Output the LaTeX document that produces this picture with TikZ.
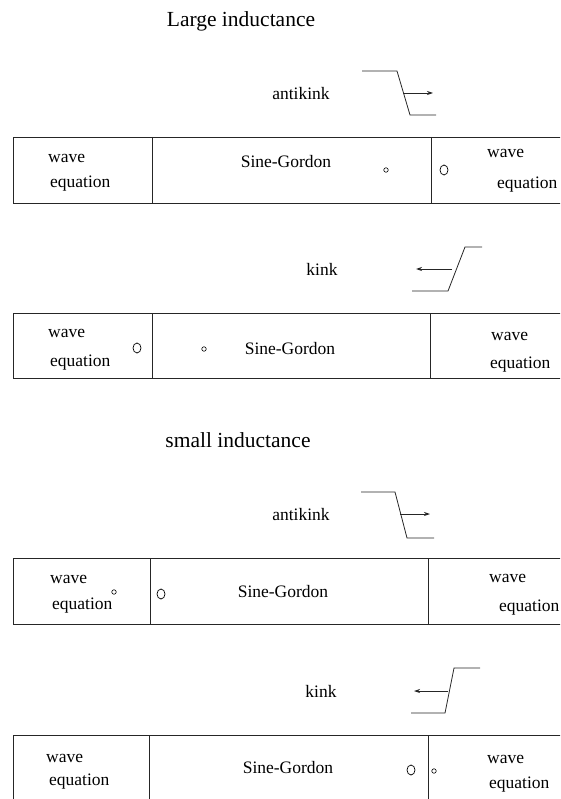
\documentclass[tikz,border=0pt]{standalone}
\usepackage{fontspec}
\setmainfont{Liberation Serif}
\usetikzlibrary{arrows.meta,shapes.geometric}
\begin{document}
\begin{tikzpicture}[x=1pt,y=-1pt,
  lbl/.style={inner sep=0pt,anchor=base west,font=\fontsize{17.5}{20}\selectfont},
  clbl/.style={inner sep=0pt,anchor=base,font=\fontsize{17.5}{20}\selectfont},
  ttl/.style={inner sep=0pt,anchor=base,font=\fontsize{21.5}{24}\selectfont},
  frame/.style={line width=0.9pt,black!85},
  wire/.style={line width=0.8pt,black!85},
  arr/.style={line width=0.8pt,black!85,-{Stealth[length=6pt,width=4pt]}},
  bigc/.style={draw,line width=0.7pt,ellipse,minimum width=8pt,minimum height=10pt,inner sep=0pt},
  smc/.style={draw,line width=0.6pt,circle,minimum size=4.5pt,inner sep=0pt}]
\useasboundingbox (0,0) rectangle (560,799);
\clip (0,0) rectangle (560,799);

% ---------- titles ----------
\node[ttl] (t1) at (241,27) {Large inductance};
\node[ttl] (t2) at (238,447) {small inductance};

% ---------- block 1 ----------
\node[clbl] (ak1) at (301,100) {antikink};
\coordinate (a1a) at (362,71); \coordinate (a1b) at (397,71);
\coordinate (a1c) at (410,115); \coordinate (a1d) at (436,115);
\coordinate (a1s) at (403,93); \coordinate (a1e) at (433,93);
\draw[wire] (a1a) -- (a1b) -- (a1c) -- (a1d);
\draw[arr] (a1s) -- (a1e);

\coordinate (b1tl) at (13,137); \coordinate (b1tr) at (562,137);
\coordinate (b1bl) at (13,203); \coordinate (b1br) at (562,203);
\coordinate (b1d1t) at (152,137); \coordinate (b1d1b) at (152,203);
\coordinate (b1d2t) at (431,137); \coordinate (b1d2b) at (431,203);
\draw[frame] (b1tr) -- (b1tl) -- (b1bl) -- (b1br);
\draw[frame] (b1d1t) -- (b1d1b);
\draw[frame] (b1d2t) -- (b1d2b);
\node[lbl] (w1l) at (48,163) {wave};
\node[lbl] (e1l) at (50,188) {equation};
\node[clbl] (sg1) at (286,168) {Sine-Gordon};
\node[smc] (s1) at (386,170) {};
\node[bigc] (c1) at (444,170) {};
\node[lbl] (w1r) at (487,158) {wave};
\node[lbl] (e1r) at (497,189) {equation};

% ---------- block 2 ----------
\node[clbl] (k2) at (322,276) {kink};
\coordinate (k2a) at (482,247); \coordinate (k2b) at (465,247);
\coordinate (k2c) at (448,291); \coordinate (k2d) at (412,291);
\coordinate (k2s) at (452,269); \coordinate (k2e) at (416,269);
\draw[wire] (k2a) -- (k2b) -- (k2c) -- (k2d);
\draw[arr] (k2s) -- (k2e);

\coordinate (b2tl) at (13,313); \coordinate (b2tr) at (562,313);
\coordinate (b2bl) at (13,378); \coordinate (b2br) at (562,378);
\coordinate (b2d1t) at (152,313); \coordinate (b2d1b) at (152,378);
\coordinate (b2d2t) at (430,313); \coordinate (b2d2b) at (430,378);
\draw[frame] (b2tr) -- (b2tl) -- (b2bl) -- (b2br);
\draw[frame] (b2d1t) -- (b2d1b);
\draw[frame] (b2d2t) -- (b2d2b);
\node[lbl] (w2l) at (48,337) {wave};
\node[lbl] (e2l) at (50,366) {equation};
\node[bigc] (c2) at (137,348) {};
\node[smc] (s2) at (204,349) {};
\node[clbl] (sg2) at (290,354) {Sine-Gordon};
\node[lbl] (w2r) at (491,340) {wave};
\node[lbl] (e2r) at (490,368) {equation};

% ---------- block 3 ----------
\node[clbl] (ak3) at (301,520) {antikink};
\coordinate (a3a) at (361,492); \coordinate (a3b) at (395,492);
\coordinate (a3c) at (407,538); \coordinate (a3d) at (434,538);
\coordinate (a3s) at (400,514); \coordinate (a3e) at (430,514);
\draw[wire] (a3a) -- (a3b) -- (a3c) -- (a3d);
\draw[arr] (a3s) -- (a3e);

\coordinate (b3tl) at (13,558); \coordinate (b3tr) at (562,558);
\coordinate (b3bl) at (13,624); \coordinate (b3br) at (562,624);
\coordinate (b3d1t) at (150,558); \coordinate (b3d1b) at (150,624);
\coordinate (b3d2t) at (428,558); \coordinate (b3d2b) at (428,624);
\draw[frame] (b3tr) -- (b3tl) -- (b3bl) -- (b3br);
\draw[frame] (b3d1t) -- (b3d1b);
\draw[frame] (b3d2t) -- (b3d2b);
\node[lbl] (w3l) at (50,583) {wave};
\node[lbl] (e3l) at (52,609) {equation};
\node[smc] (s3) at (114,592) {};
\node[bigc] (c3) at (161,594) {};
\node[clbl] (sg3) at (283,597) {Sine-Gordon};
\node[lbl] (w3r) at (489,582) {wave};
\node[lbl] (e3r) at (499,611) {equation};

% ---------- block 4 ----------
\node[clbl] (k4) at (321,697) {kink};
\coordinate (k4a) at (480,668); \coordinate (k4b) at (454,668);
\coordinate (k4c) at (445,713); \coordinate (k4d) at (411,713);
\coordinate (k4s) at (448,691); \coordinate (k4e) at (414,691);
\draw[wire] (k4a) -- (k4b) -- (k4c) -- (k4d);
\draw[arr] (k4s) -- (k4e);

\coordinate (b4tl) at (13,735); \coordinate (b4tr) at (562,735);
\coordinate (b4bl) at (13,802);
\coordinate (b4d1t) at (149,735); \coordinate (b4d1b) at (149,802);
\coordinate (b4d2t) at (428,735); \coordinate (b4d2b) at (428,802);
\draw[frame] (b4tr) -- (b4tl) -- (b4bl);
\draw[frame] (b4d1t) -- (b4d1b);
\draw[frame] (b4d2t) -- (b4d2b);
\node[lbl] (w4l) at (46,762) {wave};
\node[lbl] (e4l) at (49,785) {equation};
\node[clbl] (sg4) at (288,773) {Sine-Gordon};
\node[bigc] (c4) at (411,770) {};
\node[smc] (s4) at (434,771) {};
\node[lbl] (w4r) at (487,763) {wave};
\node[lbl] (e4r) at (489,788) {equation};
\end{tikzpicture}
\end{document}
